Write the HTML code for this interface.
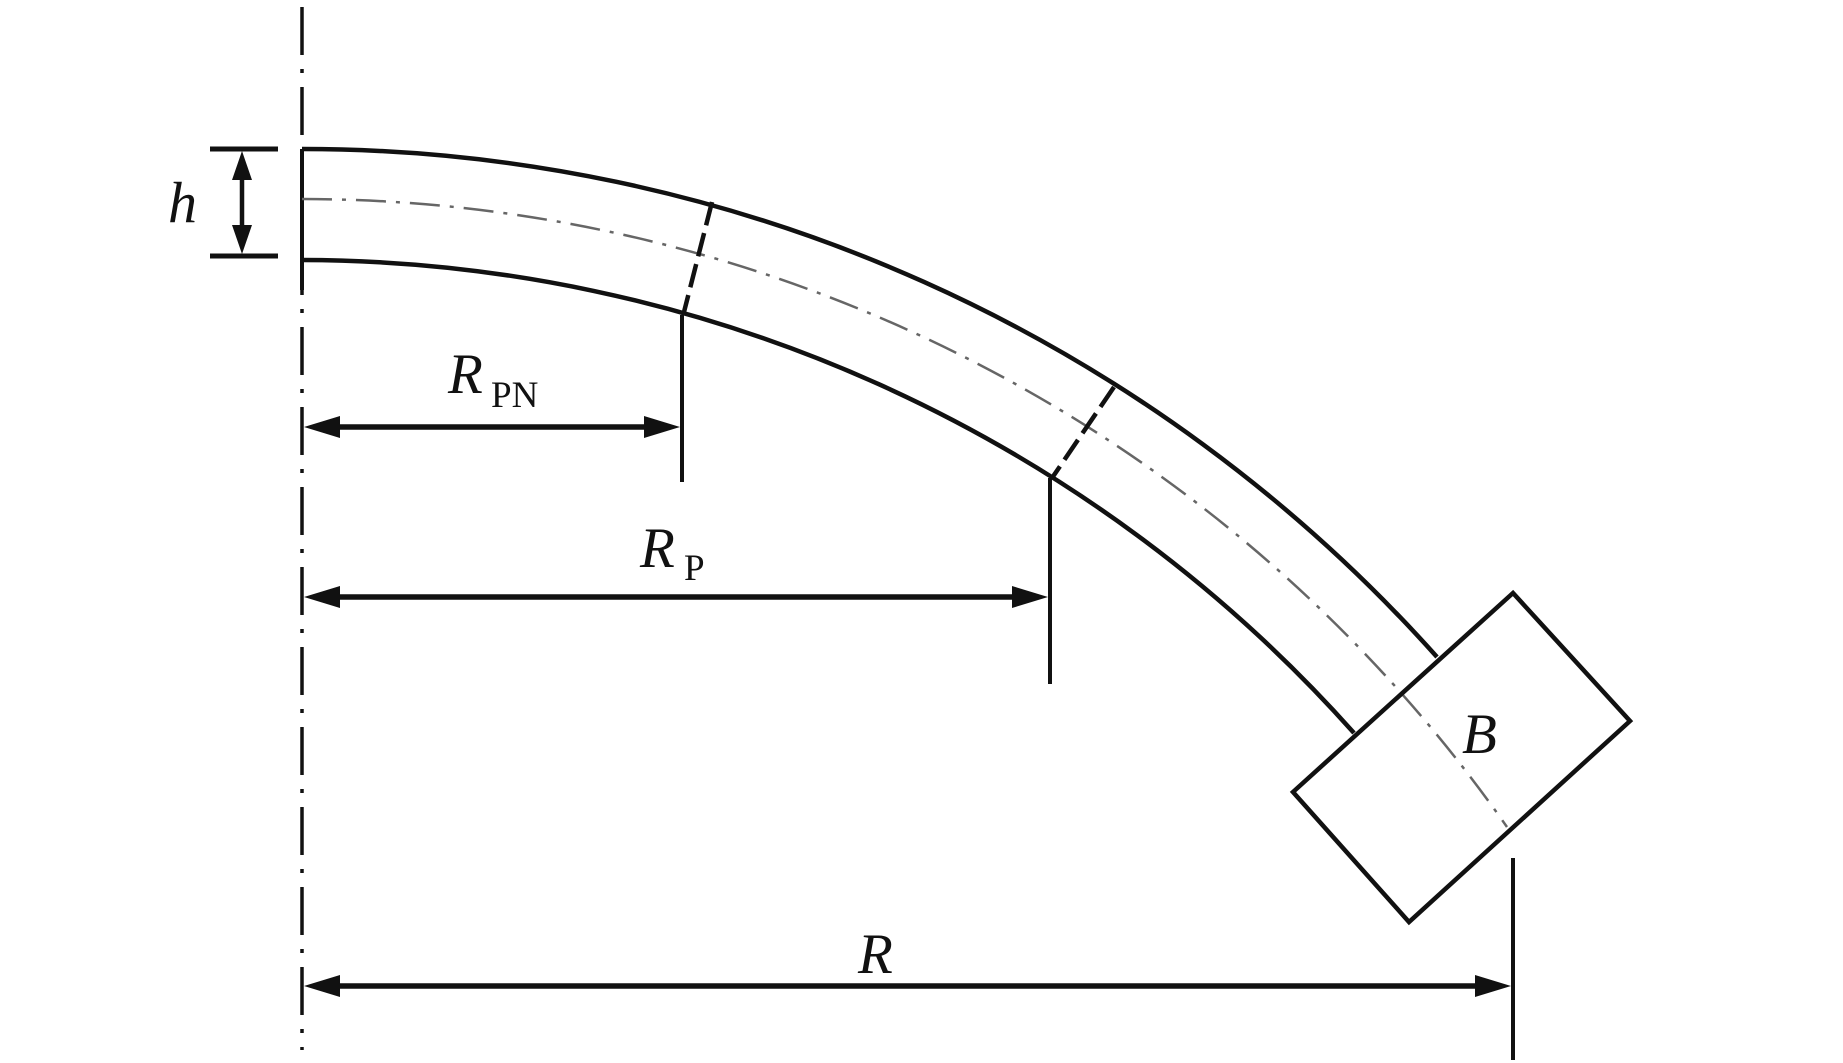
<!DOCTYPE html>
<html><head><meta charset="utf-8"><style>html,body{margin:0;padding:0;background:#fff}svg{display:block}</style></head>
<body>
<svg width="1843" height="1063" viewBox="0 0 1843 1063" xmlns="http://www.w3.org/2000/svg">
<g fill="none" stroke="#111" stroke-width="4.5">
<line x1="302" y1="7" x2="302" y2="1050" stroke-width="3.5" stroke-dasharray="48 14 4 14"/>
<line x1="302" y1="149" x2="302" y2="290" stroke-width="4"/>
<path d="M302 149 A1522 1522 0 0 1 1437 657"/>
<path d="M302 260 A1411 1411 0 0 1 1354 733"/>
<path d="M302 199 A1472 1472 0 0 1 1507 827" stroke="#666" stroke-width="2.5" stroke-dasharray="30 10 4 10"/>
<line x1="712" y1="202" x2="684" y2="312" stroke-dasharray="24 8"/>
<line x1="1114" y1="387" x2="1052" y2="478" stroke-dasharray="24 8"/>
<polygon points="1513,593 1630,721 1409,922 1293,792"/>
<line x1="210" y1="149" x2="278" y2="149" stroke-width="5"/>
<line x1="210" y1="256" x2="278" y2="256" stroke-width="5"/>
<line x1="242" y1="175" x2="242" y2="230"/>
<line x1="682" y1="315" x2="682" y2="482" stroke-width="4"/>
<line x1="1050" y1="478" x2="1050" y2="684" stroke-width="4"/>
<line x1="1513" y1="858" x2="1513" y2="1060" stroke-width="4"/>
<line x1="330" y1="427" x2="655" y2="427" stroke-width="5.5"/>
<line x1="330" y1="597" x2="1022" y2="597" stroke-width="5.5"/>
<line x1="330" y1="986" x2="1485" y2="986" stroke-width="5.5"/>
</g>
<g fill="#111">
<polygon points="242,151 232,180 252,180"/>
<polygon points="242,254 232,225 252,225"/>
<polygon points="304,427 340,416 340,438"/>
<polygon points="680,427 644,416 644,438"/>
<polygon points="304,597 340,586 340,608"/>
<polygon points="1048,597 1012,586 1012,608"/>
<polygon points="304,986 340,975 340,997"/>
<polygon points="1511,986 1475,975 1475,997"/>
</g>
<g font-family="'Liberation Serif', serif" fill="#111">
<text x="168" y="222" font-size="58" font-style="italic">h</text>
<text x="448" y="393" font-size="57" font-style="italic">R</text>
<text x="491" y="407" font-size="37">PN</text>
<text x="640" y="567" font-size="57" font-style="italic">R</text>
<text x="684" y="580" font-size="37">P</text>
<text x="858" y="973" font-size="57" font-style="italic">R</text>
<text x="1462" y="753" font-size="57" font-style="italic">B</text>
</g>
</svg>
</body></html>
